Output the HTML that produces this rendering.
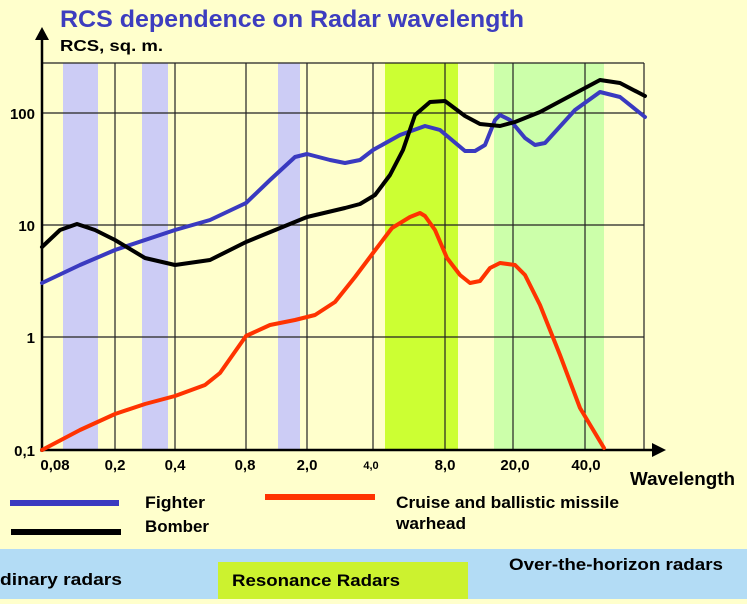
<!DOCTYPE html>
<html><head><style>
body{margin:0;width:747px;height:599px;overflow:hidden;background:#ffffcc;font-family:"Liberation Sans",Arial,sans-serif}
</style></head><body>
<svg width="747" height="599" xmlns="http://www.w3.org/2000/svg" font-family="Liberation Sans, Arial, sans-serif" font-weight="bold">
<rect width="747" height="599" fill="#ffffcc"/>
<rect x="0" y="549" width="747" height="50" fill="#b3dcf5"/>
<rect x="218" y="562" width="250" height="37" fill="#ccf22f"/>
<rect x="63" y="63" width="35" height="387" fill="#ccccf5"/>
<rect x="142" y="63" width="26" height="387" fill="#ccccf5"/>
<rect x="278" y="63" width="22" height="387" fill="#ccccf5"/>
<rect x="385" y="63" width="73" height="387" fill="#ccff33"/>
<rect x="494" y="63" width="110" height="387" fill="#ccffaa"/>
<g stroke="#222" stroke-width="1.2" fill="none">
<path d="M42 63H644M42 113H644M42 225H644M42 337H644"/>
<path d="M115 63V450M175 63V450M246 63V450M307 63V450M373 63V450M445 63V450M513 63V450M585 63V450M644 63V450"/>
</g>
<g stroke="#000" stroke-width="2.5">
<path d="M42 452V38M40 450H656"/>
</g>
<path d="M35 40L42 27L49 40Z" fill="#000"/>
<path d="M652 443L666 450L652 457Z" fill="#000"/>
<g fill="none" stroke-width="4" stroke-linejoin="round" stroke-linecap="round">
<path stroke="#3a3ac0" d="M42 283L80 265L115 250L175 230L210 220L246 203L270 180L295 157L307 154L330 160L345 163L360 160L373 150L400 135L425 126L440 130L465 151L475 151L485 145L495 120L500 115L510 120L525 138L535 145L545 143L555 132L575 110L600 92L620 97L645 117"/>
<path stroke="#000" d="M42 247L60 230L77 224L95 230L115 240L145 258L175 265L210 260L246 242L307 217L345 208L360 204L375 195L390 175L403 150L415 115L430 102L445 101L465 116L480 124L500 126L515 122L540 112L570 96L600 80L620 83L645 96"/>
<path stroke="#ff3300" d="M42 450L80 430L115 414L145 404L175 396L205 385L220 373L246 336L270 325L295 320L315 315L335 302L355 277L373 253L392 228L410 217L420 213L425 216L435 230L447 258L460 275L470 283L480 281L490 268L500 263L515 265L525 275L540 305L560 355L580 408L604 448"/>
</g>
<text x="60" y="27" fill="#3d3dbf" font-size="24" textLength="464" lengthAdjust="spacingAndGlyphs">RCS dependence on Radar wavelength</text>
<text x="60" y="51" font-size="16" textLength="103" lengthAdjust="spacingAndGlyphs">RCS, sq. m.</text>
<g font-size="15" text-anchor="end">
<text x="35" y="119">100</text><text x="35" y="231">10</text><text x="35" y="343">1</text><text x="35" y="456">0,1</text>
</g>
<g font-size="15" text-anchor="middle">
<text x="55" y="470">0,08</text><text x="115" y="470">0,2</text><text x="175" y="470">0,4</text><text x="245" y="470">0,8</text><text x="307" y="470">2,0</text><text x="371" y="469" font-size="11">4,0</text><text x="445" y="470">8,0</text><text x="515" y="470">20,0</text><text x="586" y="470">40,0</text>
</g>
<text x="630" y="485" font-size="18" textLength="105" lengthAdjust="spacingAndGlyphs">Wavelength</text>
<rect x="10" y="500" width="109" height="6" fill="#3a3ac0"/>
<rect x="11" y="529" width="110" height="6" fill="#000"/>
<rect x="265" y="494" width="110" height="6" fill="#ff3300"/>
<g font-size="17">
<text x="145" y="508" textLength="60" lengthAdjust="spacingAndGlyphs">Fighter</text>
<text x="145" y="532" textLength="64" lengthAdjust="spacingAndGlyphs">Bomber</text>
<text x="396" y="508" textLength="223" lengthAdjust="spacingAndGlyphs">Cruise and ballistic missile</text>
<text x="396" y="529" textLength="70" lengthAdjust="spacingAndGlyphs">warhead</text>
<text x="0" y="585" textLength="122" lengthAdjust="spacingAndGlyphs">dinary radars</text>
<text x="232" y="586" textLength="168" lengthAdjust="spacingAndGlyphs">Resonance Radars</text>
<text x="509" y="570" textLength="214" lengthAdjust="spacingAndGlyphs">Over-the-horizon radars</text>
</g>
</svg>
</body></html>
